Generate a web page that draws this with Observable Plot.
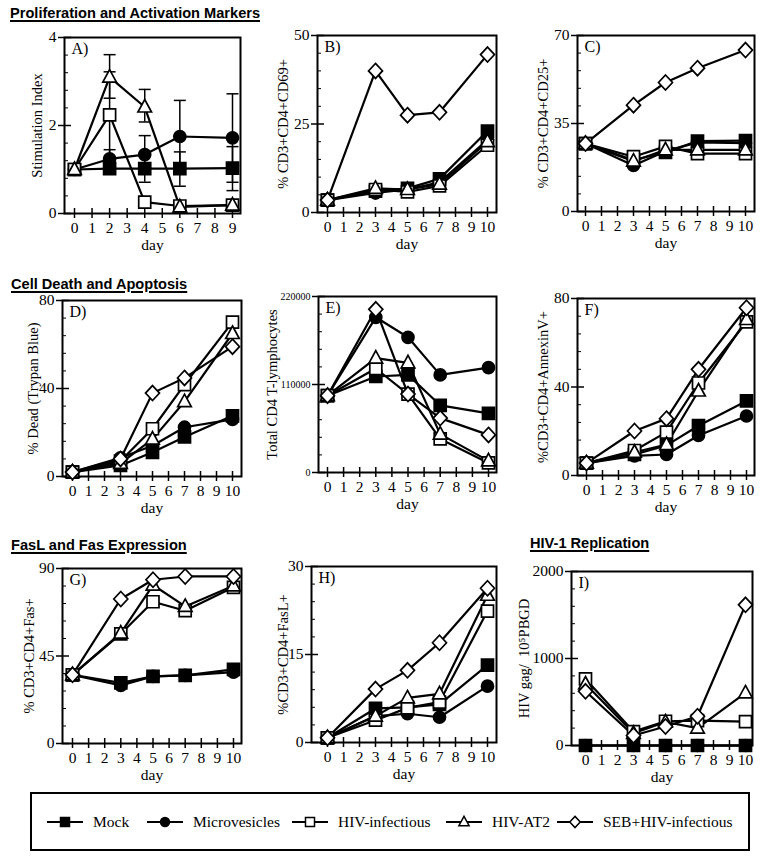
<!DOCTYPE html>
<html><head><meta charset="utf-8">
<script src="https://cdn.jsdelivr.net/npm/d3@7"></script>
<script src="https://cdn.jsdelivr.net/npm/@observablehq/plot@0.6"></script>
<style>
body{margin:0;background:#fff;}
#fig{position:relative;width:765px;height:860px;overflow:hidden;background:#fff;font-family:"Liberation Serif","Times New Roman",serif;color:#000;}
.sec{position:absolute;font-family:"Liberation Sans",Arial,sans-serif;font-weight:bold;font-size:14.6px;line-height:16px;text-decoration:underline;text-decoration-thickness:1.5px;text-underline-offset:2px;white-space:nowrap;}
.panel{position:absolute;}
#legend{position:absolute;left:30px;top:792px;width:716px;height:55px;border:2px solid #000;box-sizing:content-box;}
.li{position:absolute;top:0;height:55px;display:flex;align-items:center;font-size:15.5px;white-space:nowrap;}
</style></head>
<body><div id="fig">
<div class="sec" style="left:10px;top:5px">Proliferation and Activation Markers</div>
<div class="sec" style="left:11px;top:276px">Cell Death and Apoptosis</div>
<div class="sec" style="left:11px;top:537px">FasL and Fas Expression</div>
<div class="sec" style="left:530px;top:535px">HIV-1 Replication</div>
<div id="legend"></div>
</div>
<script>
// ---------- data ----------
const seriesNames = ["Mock", "Microvesicles", "HIV-infectious", "HIV-AT2", "SEB+HIV-infectious"];
const daysA = [0, 2, 4, 6, 9];
const daysOther = [0, 3, 5, 7, 10];

// values: one row per series (Mock, Microvesicles, HIV-infectious, HIV-AT2, SEB+HIV-infectious)
const valuesA = [
  [1.0, 1.02, 1.02, 1.02, 1.03],
  [1.0, 1.24, 1.34, 1.75, 1.72],
  [1.0, 2.24, 0.26, 0.17, 0.19],
  [1.0, 3.10, 2.42, 0.15, 0.19],
  null
];
const errLowA = [
  [null, null, 0.71, 0.62, 0.52],
  [null, 1.0, 0.91, 0.93, 0.71],
  [null, 1.26, null, null, null],
  [null, 2.62, 2.08, null, null],
  null
];
const errHighA = [
  [null, null, 1.33, 1.40, 1.52],
  [null, 1.45, 1.77, 2.57, 2.72],
  [null, 3.22, null, null, null],
  [null, 3.61, 2.82, null, null],
  null
];
const valuesB = [
  [3.5, 6.0, 6.8, 9.5, 23.0],
  [3.5, 5.5, 6.5, 8.5, 20.5],
  [3.5, 6.5, 5.8, 7.5, 19.0],
  [3.5, 6.8, 6.5, 8.0, 20.0],
  [3.5, 40.0, 27.5, 28.3, 44.6]
];
const valuesC = [
  [27, 20.5, 23.5, 28, 28.2],
  [27, 18.3, 24, 27.5, 27.2],
  [27, 21.8, 25.9, 23, 23],
  [27, 20, 24.5, 24.5, 24.5],
  [27, 42.3, 51.3, 57, 64.2]
];
const valuesD = [
  [2, 5, 11, 18, 27.6],
  [2, 8.5, 14, 22.4, 26],
  [2, 7, 21.7, 41.8, 70.2],
  [2, 6, 17, 34, 65],
  [2, 8, 37.9, 44.8, 59]
];
const valuesE = [
  [96000, 120000, 122000, 84000, 74000],
  [96000, 194000, 169000, 122000, 131000],
  [96000, 130000, 98000, 42000, 12000],
  [96000, 143000, 137000, 48000, 14500],
  [96000, 204000, 98000, 68000, 47000]
];
const valuesF = [
  [5.6, 9.5, 13.6, 22.5, 33.7],
  [5.6, 8.9, 9.5, 18.1, 26.9],
  [5.6, 11.3, 19.6, 41.8, 69.4],
  [5.6, 10.5, 14, 38.2, 70.5],
  [5.6, 20.1, 25.7, 48, 75.8]
];
const valuesG = [
  [35.3, 31.2, 34.5, 35, 38.1],
  [35.3, 29.9, 34.5, 35, 36.7],
  [35.3, 56.4, 72.9, 68.3, 80.3],
  [35.3, 56.8, 81.5, 70.5, 81.1],
  [35.3, 74.3, 84.2, 85.9, 85.9]
];
const valuesH = [
  [0.8, 5.8, 6.0, 6.5, 13.2],
  [0.8, 4.5, 4.9, 4.3, 9.6],
  [0.8, 3.8, 5.9, 6.9, 22.4],
  [0.8, 4.5, 7.6, 8.3, 25.1],
  [0.8, 9.1, 12.3, 17, 26.3]
];
const valuesI = [
  [0, 0, 0, 0, 0],
  [0, 0, 0, 0, 0],
  [765, 160, 279, 287, 275],
  [707, 140, 270, 199, 604],
  [623, 115, 218, 336, 1617]
];

// tick labels (y axes)
const yTicksA = [0, 2, 4];
const yTicksB = [0, 25, 50];
const yTicksC = [0, 35, 70];
const yTicksD = [0, 40, 80];
const yTicksE = [0, 110000, 220000];
const yTicksF = [0, 40, 80];
const yTicksG = [0, 45, 90];
const yTicksH = [0, 15, 30];
const yTicksI = [0, 1000, 2000];

const yTitles = ["Stimulation Index", "% CD3+CD4+CD69+", "% CD3+CD4+CD25+", "% Dead (Trypan Blue)",
  "Total CD4 T-lymphocytes", "%CD3+CD4+AnnexinV+", "% CD3+CD4+Fas+", "%CD3+CD4+FasL+", "HIV gag/  10\u2075PBGD"];
const panelLetters = ["A)", "B)", "C)", "D)", "E)", "F)", "G)", "H)", "I)"];
const xTitle = "day";

// ---------- symbols & styles ----------
const symSquare = {draw(c) { c.moveTo(-6, -6); c.lineTo(6, -6); c.lineTo(6, 6); c.lineTo(-6, 6); c.closePath(); }};
const symCircle = {draw(c) { c.moveTo(6, 0); c.arc(0, 0, 6, 0, 2 * Math.PI); }};
const symTri = {draw(c) { c.moveTo(0, -7.5); c.lineTo(6.8, 5); c.lineTo(-6.8, 5); c.closePath(); }};
const symDiamond = {draw(c) { c.moveTo(0, -7.5); c.lineTo(7, 0); c.lineTo(0, 7.5); c.lineTo(-7, 0); c.closePath(); }};
const symCap = {draw(c) { c.moveTo(-6, 0); c.lineTo(6, 0); }};
const seriesStyle = [
  {symbol: symSquare, fill: "#000"},
  {symbol: symCircle, fill: "#000"},
  {symbol: symSquare, fill: "#fff"},
  {symbol: symTri, fill: "#fff"},
  {symbol: symDiamond, fill: "#fff"}
];
const dotOrder = [1, 0, 2, 3, 4];

// ---------- layout (pixel frames in the page) ----------
const panels = [
  {days: daysA, values: valuesA, yTicks: yTicksA, lay: {L: 64, T: 37, R: 240, B: 213, x0: 74, x1: 232, labLeft: 31}},
  {days: daysOther, values: valuesB, yTicks: yTicksB, lay: {L: 317, T: 35, R: 496, B: 212, x0: 327, x1: 487, labLeft: 277}},
  {days: daysOther, values: valuesC, yTicks: yTicksC, lay: {L: 577, T: 35, R: 754, B: 211, x0: 585, x1: 745, labLeft: 537}},
  {days: daysOther, values: valuesD, yTicks: yTicksD, lay: {L: 62, T: 300, R: 241, B: 476, x0: 72, x1: 232, labLeft: 27}},
  {days: daysOther, values: valuesE, yTicks: yTicksE, lay: {L: 318, T: 296, R: 496, B: 472, x0: 327, x1: 488, labLeft: 266, tickFont: 10}},
  {days: daysOther, values: valuesF, yTicks: yTicksF, lay: {L: 577, T: 298, R: 754, B: 475, x0: 586, x1: 746, labLeft: 537}},
  {days: daysOther, values: valuesG, yTicks: yTicksG, lay: {L: 62, T: 568, R: 241, B: 743, x0: 72, x1: 233, labLeft: 23}},
  {days: daysOther, values: valuesH, yTicks: yTicksH, lay: {L: 311, T: 566, R: 496, B: 742, x0: 327, x1: 487, labLeft: 277}},
  {days: daysOther, values: valuesI, yTicks: yTicksI, lay: {L: 571, T: 571, R: 752, B: 745, x0: 585, x1: 745, labLeft: 518}}
];

function toRows(dayArr, vals) {
  const out = [];
  vals.forEach((arr, i) => {
    if (!arr) return;
    arr.forEach((v, j) => { if (v != null) out.push({series: seriesNames[i], idx: i, day: dayArr[j], value: v}); });
  });
  return out;
}
function toErrRows(dayArr, lo, hi) {
  const out = [];
  lo.forEach((arr, i) => {
    if (!arr) return;
    arr.forEach((v, j) => { if (v != null) out.push({series: seriesNames[i], day: dayArr[j], lo: v, hi: hi[i][j]}); });
  });
  return out;
}

const mL = 62, mR = 10, mT = 14, mB = 50;
const fig = document.getElementById("fig");

panels.forEach((p, k) => {
  const {L, T, R, B, x0, x1, labLeft, tickFont} = p.lay;
  const svgLeft = L - mL, svgTop = T - mT;
  const W = (R - L) + mL + mR, H = (B - T) + mT + mB;
  const lastDay = p.days[p.days.length - 1];
  const ymax = p.yTicks[p.yTicks.length - 1];
  const minor = d3.range(1, 10).filter(i => i !== 5).map(i => ymax * i / 10);
  const rows = toRows(p.days, p.values);
  const marks = [
    Plot.frame({stroke: "#000", strokeWidth: 2}),
    Plot.axisY({ticks: p.yTicks, tickSize: 6, tickPadding: 2, strokeWidth: 1.5, tickFormat: d3.format("d"), fontSize: tickFont || 15.5, label: null}),
    Plot.axisY({ticks: p.yTicks, tickSize: -7, strokeWidth: 1.5, tickFormat: () => "", label: null}),
    Plot.axisY({ticks: minor, tickSize: -4, strokeWidth: 1, tickFormat: () => "", label: null}),
    Plot.axisX({ticks: d3.range(lastDay + 1), tickSize: 5, tickPadding: 3, strokeWidth: 1.5, tickFormat: d3.format("d"), fontSize: 15.5, label: null}),
    Plot.axisX({ticks: d3.range(lastDay + 1), tickSize: -5, strokeWidth: 1.5, tickFormat: () => "", label: null}),
    Plot.text([yTitles[k]], {text: d => d, frameAnchor: "left", rotate: -90, dx: labLeft - L, lineAnchor: "top", textAnchor: "middle", fontSize: 14.5}),
    Plot.text([xTitle], {text: d => d, frameAnchor: "bottom", dy: 25, lineAnchor: "top", textAnchor: "middle", fontSize: 15.5}),
    Plot.text([panelLetters[k]], {text: d => d, frameAnchor: "top-left", dx: 7, dy: 5, lineAnchor: "top", textAnchor: "start", fontSize: 16})
  ];
  if (k === 0) {
    const err = toErrRows(p.days, errLowA, errHighA);
    marks.push(
      Plot.ruleX(err, {x: "day", y1: "lo", y2: "hi", stroke: "#000", strokeWidth: 1.5}),
      Plot.dot(err, {x: "day", y: "lo", symbol: symCap, stroke: "#000", fill: "none", strokeWidth: 1.5}),
      Plot.dot(err, {x: "day", y: "hi", symbol: symCap, stroke: "#000", fill: "none", strokeWidth: 1.5})
    );
  }
  marks.push(Plot.line(rows, {x: "day", y: "value", z: "series", stroke: "#000", strokeWidth: 2.2}));
  dotOrder.forEach(i => {
    const sub = rows.filter(r => r.idx === i);
    if (!sub.length) return;
    marks.push(Plot.dot(sub, {x: "day", y: "value", symbol: seriesStyle[i].symbol, fill: seriesStyle[i].fill, stroke: "#000", strokeWidth: 1.7}));
  });
  const chart = Plot.plot({
    width: W, height: H,
    marginLeft: mL, marginRight: mR, marginTop: mT, marginBottom: mB,
    x: {domain: [0, lastDay], range: [x0 - svgLeft, x1 - svgLeft]},
    y: {domain: [0, ymax], range: [H - mB, mT]},
    style: {fontFamily: "'Liberation Serif','Times New Roman',serif", fontSize: "15px", color: "#000", background: "none", overflow: "visible"},
    marks
  });
  const div = document.createElement("div");
  div.className = "panel";
  div.style.left = svgLeft + "px";
  div.style.top = svgTop + "px";
  div.appendChild(chart);
  fig.appendChild(div);
});

// ---------- legend ----------
const legendLineLeft = [15, 115, 260, 414, 525];
const legend = document.getElementById("legend");
seriesNames.forEach((name, i) => {
  const item = document.createElement("div");
  item.className = "li";
  item.style.left = legendLineLeft[i] + "px";
  const svg = d3.create("svg").attr("width", 36).attr("height", 16).style("margin-right", "10px");
  svg.append("line").attr("x1", 0).attr("x2", 36).attr("y1", 8).attr("y2", 8).attr("stroke", "#000").attr("stroke-width", 2);
  svg.append("path").attr("d", d3.symbol(seriesStyle[i].symbol)())
    .attr("transform", "translate(18,8) scale(0.75)")
    .attr("fill", seriesStyle[i].fill).attr("stroke", "#000").attr("stroke-width", 2);
  item.appendChild(svg.node());
  const t = document.createElement("span");
  t.textContent = name;
  item.appendChild(t);
  legend.appendChild(item);
});
</script>
</body></html>
